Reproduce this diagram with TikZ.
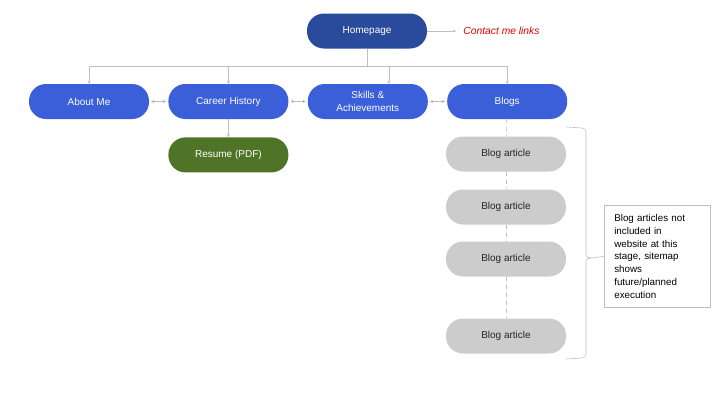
\documentclass[tikz,border=0pt]{standalone}
\usepackage{fontspec}
\setmainfont{Liberation Sans}
\usetikzlibrary{positioning, arrows.meta}

\definecolor{homeblue}{RGB}{42,74,156}
\definecolor{pageblue}{RGB}{58,95,216}
\definecolor{resgreen}{RGB}{79,116,40}
\definecolor{artgray}{RGB}{204,204,204}
\definecolor{linegray}{RGB}{190,190,190}
\definecolor{contactred}{RGB}{225,0,0}

\begin{document}
\begin{tikzpicture}[
x=1pt, y=-1pt,
every node/.style={
    font=\fontsize{10}{12}\selectfont,
    },
page/.style={
    rectangle,
    rounded corners=17pt,
    minimum width=120pt,
    minimum height=35pt,
    inner sep=0pt,
    align=center,
    text=white,
    fill=pageblue,
    },
article/.style={
    page,
    fill=artgray,
    text=black!85,
    },
link/.style={
    draw=linegray,
    line width=0.6pt,
    -{Stealth[length=3pt,width=3pt]},
    },
]
\useasboundingbox (0,0) rectangle (720,405);

% main pages
\node (home) [page, fill=homeblue] at (367,31) {Homepage};
\node (about) [page] at (89,101.5) {About Me};
\node (career) [page, right=19pt of about] {Career History};
\node (skills) [page, right=19pt of career]
      {Skills \&\\[1pt] Achievements};
\node (blogs) [page, right=19pt of skills] {Blogs};
\node (resume) [page, fill=resgreen, below=18pt of career] {Resume (PDF)};

% blog articles
\node (art1) [article] at (506,154) {Blog article};
\node (art2) [article] at (506,207) {Blog article};
\node (art3) [article] at (506,259) {Blog article};
\node (art4) [article] at (506,336) {Blog article};

\node (contact) [right=36pt of home, inner sep=0pt, text=contactred,
      font=\fontsize{10.3}{12}\selectfont\itshape] {Contact me links};
\node (note) [draw=linegray, line width=0.6pt, align=left, anchor=north west,
      minimum width=106pt, minimum height=102pt, inner xsep=10pt,
      inner ysep=5pt, text width=86pt, font=\fontsize{9.8}{12.8}\selectfont]
      at (604,205)
      {Blog articles not\\ included in\\ website at this\\ stage, sitemap\\
       shows\\ future/planned\\ execution};

% connectors
\draw[link] (home) -- (contact) [shorten >=7pt];
\draw[link, -] (home.south) -- ++(0,18) coordinate (hub);
\draw[link] (hub) -| (about.north);
\draw[link] (hub) -| (career.north);
\draw[link] (hub) -| ([xshift=21pt]skills.north);
\draw[link] (hub) -| (blogs.north);
\path[link, {Stealth[length=3pt,width=3pt]}-{Stealth[length=3pt,width=3pt]},
      shorten <=2pt, shorten >=2pt]
      (about) edge (career)
      (career) edge (skills)
      (skills) edge (blogs);
\draw[link] (career) -- (resume);
\draw[link, -, dash pattern=on 4pt off 4pt] (blogs) -- (art1);
\draw[link, -, dash pattern=on 4pt off 4pt] (art1) -- (art2);
\draw[link, -, dash pattern=on 4pt off 4pt] (art2) -- (art3);
\draw[link, -, dash pattern=on 4pt off 4pt] (art3) -- (art4);

% bracket round the articles
\coordinate (tip) at (593,258);
\draw[linegray, line width=0.6pt]
      (566,127) -- (582,128) to[out=0,in=90] (586,132) -- (586,255)
      to[out=-90,in=180] (tip) to[out=180,in=90] (586,261)
      -- (586,354) to[out=-90,in=0] (582,358) -- (566,359);
\draw[linegray, line width=0.6pt] (tip) -- (note.west);
\end{tikzpicture}
\end{document}
